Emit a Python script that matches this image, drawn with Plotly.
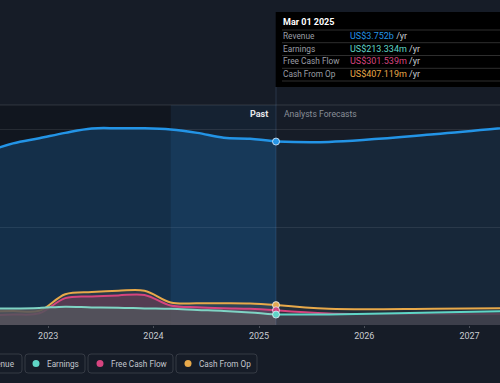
import plotly.graph_objects as go

# ---------------- data ----------------
past_dates = ['2022-06-01', '2022-09-01', '2022-12-01', '2023-03-01', '2023-06-01', '2023-09-01',
              '2023-12-01', '2024-03-01', '2024-06-01', '2024-09-01', '2024-12-01', '2025-03-01']
revenue_past = [3.54, 3.715, 3.82, 3.93, 4.02, 4.025, 4.025, 4.00, 3.93, 3.83, 3.81, 3.752]
earnings_past = [0.34, 0.34, 0.35, 0.375, 0.36, 0.355, 0.34, 0.33, 0.307, 0.287, 0.256, 0.213334]
fcf_past = [0.195, 0.215, 0.24, 0.55, 0.585, 0.605, 0.615, 0.40, 0.362, 0.342, 0.33, 0.301539]
cfo_past = [0.28, 0.287, 0.29, 0.63, 0.675, 0.70, 0.70, 0.46, 0.445, 0.445, 0.44, 0.407119]

fc_dates = ['2025-03-01', '2025-08-31', '2026-08-31', '2027-08-31']
revenue_fc = [3.752, 3.745, 3.90, 4.10]
earnings_fc = [0.213334, 0.215, 0.256, 0.297]
fcf_fc = [0.301539, 0.235, 0.225, 0.225]
cfo_fc = [0.407119, 0.33, 0.33, 0.35]

series_names = ['Revenue', 'Earnings', 'Free Cash Flow', 'Cash From Op']
tick_years = ['2023-01-01', '2024-01-01', '2025-01-01', '2026-01-01', '2027-01-01']
tick_labels = ['2023', '2024', '2025', '2026', '2027']
tooltip_date = 'Mar 01 2025'
highlight_start = '2024-03-01'
x_range = ['2022-07-17 19:00', '2027-04-16 19:00']
y_range = [0, 4.5]

# ---------------- style ----------------
BG = '#161c27'
C_REV = '#2394e6'
C_EARN = '#5fd6c6'
C_FCF = '#d6447f'
C_CFO = '#e8a94a'
FONT = 'Roboto'

W, H = 500, 383
PT, PB = 105, 325  # plot top/bottom pixel


def X(px):
    return px / W


def Y(py):
    return (PB - py) / (PB - PT)


fig = go.Figure()

# revenue
fig.add_trace(go.Scatter(x=past_dates, y=revenue_past, mode='lines', line=dict(color=C_REV, width=2.5, shape='spline'),
                         fill='tozeroy', fillcolor='rgba(33,150,243,0.2)', hoverinfo='skip'))
fig.add_trace(go.Scatter(x=fc_dates, y=revenue_fc, mode='lines', line=dict(color=C_REV, width=2.5, shape='spline'),
                         fill='tozeroy', fillcolor='rgba(33,150,243,0.09)', hoverinfo='skip'))
# cash from op
fig.add_trace(go.Scatter(x=past_dates, y=cfo_past, mode='lines', line=dict(color=C_CFO, width=2, shape='spline'),
                         fill='tozeroy', fillcolor='rgba(232,169,74,0.10)', hoverinfo='skip'))
fig.add_trace(go.Scatter(x=fc_dates, y=cfo_fc, mode='lines', line=dict(color=C_CFO, width=2, shape='spline'),
                         fill='tozeroy', fillcolor='rgba(232,169,74,0.06)', hoverinfo='skip'))
# free cash flow
fig.add_trace(go.Scatter(x=past_dates, y=fcf_past, mode='lines', line=dict(color=C_FCF, width=2, shape='spline'),
                         fill='tozeroy', fillcolor='rgba(214,68,110,0.25)', hoverinfo='skip'))
fig.add_trace(go.Scatter(x=fc_dates, y=fcf_fc, mode='lines', line=dict(color=C_FCF, width=2, shape='spline'),
                         fill='tozeroy', fillcolor='rgba(214,68,110,0.10)', hoverinfo='skip'))
# earnings
fig.add_trace(go.Scatter(x=past_dates, y=earnings_past, mode='lines', line=dict(color='#7fd4c4', width=2, shape='spline'),
                         fill='tozeroy', fillcolor='rgba(82,84,92,0.85)', hoverinfo='skip'))
fig.add_trace(go.Scatter(x=fc_dates, y=earnings_fc, mode='lines', line=dict(color=C_EARN, width=2, shape='spline'),
                         fill='tozeroy', fillcolor='rgba(62,66,78,0.85)', hoverinfo='skip'))

# markers at tooltip date
for vals, col in [(revenue_past, C_REV), (cfo_past, C_CFO), (fcf_past, C_FCF), (earnings_past, C_EARN)]:
    fig.add_trace(go.Scatter(x=[past_dates[-1]], y=[vals[-1]], mode='markers',
                             marker=dict(color=col, size=7, line=dict(color='rgba(230,240,250,0.8)', width=1)),
                             hoverinfo='skip'))

shapes = [
    # darker past region
    dict(type='rect', xref='x', yref='paper', x0=x_range[0], x1=highlight_start, y0=0, y1=1,
         fillcolor='rgba(0,0,0,0.2)', line_width=0, layer='below'),
    # last-12-months highlight
    dict(type='rect', xref='x', yref='paper', x0=highlight_start, x1=past_dates[-1], y0=0, y1=1,
         fillcolor='rgba(20,60,90,0.22)', line_width=0, layer='below'),
    # top line
    dict(type='line', xref='paper', yref='paper', x0=0, x1=1, y0=1, y1=1,
         line=dict(color='rgba(255,255,255,0.13)', width=1), layer='below'),
    # vertical cursor
    dict(type='line', xref='x', yref='paper', x0=past_dates[-1], x1=past_dates[-1], y0=0, y1=Y(87),
         line=dict(color='rgba(120,170,220,0.18)', width=1), layer='above'),
    # tooltip box
    dict(type='rect', xref='paper', yref='paper', x0=X(275.7), x1=1.02, y0=Y(87), y1=Y(12),
         fillcolor='#000000', line_width=0, layer='above'),
]
for py in [30, 42.7, 55.5, 68.3, 81]:
    shapes.append(dict(type='line', xref='paper', yref='paper', x0=X(282), x1=1.02, y0=Y(py), y1=Y(py),
                       line=dict(color='#2e2e2e', width=1), layer='above'))


def rounded_box(x0, x1, y0, y1, r=3):
    return (f"M {X(x0 + r)},{Y(y0)} L {X(x1 - r)},{Y(y0)} Q {X(x1)},{Y(y0)} {X(x1)},{Y(y0 + r)} "
            f"L {X(x1)},{Y(y1 - r)} Q {X(x1)},{Y(y1)} {X(x1 - r)},{Y(y1)} "
            f"L {X(x0 + r)},{Y(y1)} Q {X(x0)},{Y(y1)} {X(x0)},{Y(y1 - r)} "
            f"L {X(x0)},{Y(y0 + r)} Q {X(x0)},{Y(y0)} {X(x0 + r)},{Y(y0)} Z")


# legend
legend_boxes = [(-40, 22), (25, 85), (88, 173), (176, 257)]
legend_dots = [-29, 36, 100, 188]
legend_cols = [C_REV, C_EARN, C_FCF, C_CFO]
annotations = []
for i, ((bx0, bx1), dx, col, name) in enumerate(zip(legend_boxes, legend_dots, legend_cols, series_names)):
    shapes.append(dict(type='path', xref='paper', yref='paper', path=rounded_box(bx0, bx1, 354, 373),
                       line=dict(color='#353a44', width=1), fillcolor='rgba(0,0,0,0)'))
    shapes.append(dict(type='circle', xref='paper', yref='paper', x0=X(dx - 3.5), x1=X(dx + 3.5),
                       y0=Y(363.5 + 3.5), y1=Y(363.5 - 3.5), fillcolor=col, line_width=0))
    if i == 0:
        annotations.append(dict(xref='paper', yref='paper', x=X(16.5), y=Y(363.5), text=name,
                                showarrow=False, xanchor='right', yanchor='middle',
                                font=dict(family=FONT, size=8.2, color='#c3c7ce')))
    else:
        annotations.append(dict(xref='paper', yref='paper', x=X(dx + 8.5), y=Y(363.5), text=name,
                                showarrow=False, xanchor='left', yanchor='middle',
                                font=dict(family=FONT, size=8.2, color='#c3c7ce')))

# past / forecast labels
annotations.append(dict(xref='paper', yref='paper', x=X(269.5), y=Y(114), text='<b>Past</b>', showarrow=False,
                        xanchor='right', yanchor='middle', font=dict(family=FONT, size=9, color='#e6e8eb')))
annotations.append(dict(xref='paper', yref='paper', x=X(281.5), y=Y(114), text='Analysts Forecasts', showarrow=False,
                        xanchor='left', yanchor='middle', font=dict(family=FONT, size=8.6, color='#8a8f98')))

# tooltip text
annotations.append(dict(xref='paper', yref='paper', x=X(281), y=Y(22.3), text=f'<b>{tooltip_date}</b>',
                        showarrow=False, xanchor='left', yanchor='middle',
                        font=dict(family=FONT, size=9, color='#ffffff')))
tip_vals = [f'US${revenue_past[-1]:.3f}b', f'US${earnings_past[-1] * 1000:.3f}m',
            f'US${fcf_past[-1] * 1000:.3f}m', f'US${cfo_past[-1] * 1000:.3f}m']
for name, val, col, py in zip(series_names, tip_vals, legend_cols, [36, 48.7, 61.2, 74]):
    annotations.append(dict(xref='paper', yref='paper', x=X(281), y=Y(py), text=name, showarrow=False,
                            xanchor='left', yanchor='middle', font=dict(family=FONT, size=8.3, color='#9a9ea5')))
    annotations.append(dict(xref='paper', yref='paper', x=X(348), y=Y(py),
                            text=f'<span style="color:{col}">{val}</span> /yr', showarrow=False,
                            xanchor='left', yanchor='middle', font=dict(family=FONT, size=9, color='#c8cbd0')))

fig.update_layout(
    width=W, height=H,
    margin=dict(l=0, r=0, t=PT, b=H - PB, pad=0),
    paper_bgcolor=BG, plot_bgcolor=BG,
    showlegend=False,
    shapes=shapes,
    annotations=annotations,
    xaxis=dict(type='date', range=x_range, tickvals=tick_years, ticktext=tick_labels,
               showgrid=False, zeroline=False, showline=False,
               ticks='outside', ticklen=2, tickcolor='#4a4f58',
               tickfont=dict(family=FONT, size=9, color='#c8cbd0')),
    yaxis=dict(range=y_range, tickvals=[2, 4], showticklabels=False, showgrid=True,
               gridcolor='rgba(255,255,255,0.09)', gridwidth=1, zeroline=False, showline=False),
)

fig.write_html('out.html', config={'displayModeBar': False},
               post_script="document.body.style.margin='0';document.body.style.background='#161c27';")
